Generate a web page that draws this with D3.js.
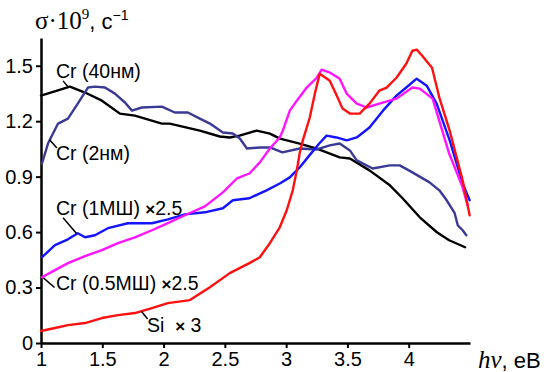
<!DOCTYPE html>
<html>
<head>
<meta charset="utf-8">
<script src="https://cdn.jsdelivr.net/npm/d3@7"></script>
<style>
  html, body { margin: 0; padding: 0; background: #fff; }
  svg { display: block; }
  text { font-family: "Liberation Sans", Arial, sans-serif; }
</style>
</head>
<body>
<svg id="chart" width="546" height="372"></svg>
<script>
// ---- data (photon energy, eV ; sigma*1e9, s^-1) ----
const xTicks = [1, 1.5, 2, 2.5, 3, 3.5, 4];
const yTicks = [0, 0.3, 0.6, 0.9, 1.2, 1.5];

const cr40nm = [[1.0,1.338],[1.236,1.387],[1.359,1.355],[1.497,1.311],[1.644,1.241],[1.766,1.230],[1.986,1.187],[2.05,1.187],[2.296,1.149],[2.459,1.117],[2.54,1.112],[2.62,1.122],[2.76,1.149],[2.867,1.133],[2.95,1.106],[3.11,1.079],[3.25,1.052],[3.437,1.004],[3.52,0.998],[3.68,0.934],[3.846,0.853],[3.95,0.783],[4.09,0.680],[4.23,0.599],[4.33,0.556],[4.46,0.518]];

const cr2nm = [[1.008,0.971],[1.057,1.079],[1.139,1.187],[1.22,1.214],[1.30,1.295],[1.383,1.382],[1.44,1.387],[1.522,1.382],[1.603,1.349],[1.685,1.301],[1.742,1.257],[1.823,1.274],[1.986,1.279],[2.092,1.247],[2.198,1.247],[2.296,1.214],[2.378,1.187],[2.484,1.139],[2.565,1.133],[2.622,1.106],[2.68,1.052],[2.785,1.058],[2.867,1.058],[2.97,1.031],[3.11,1.052],[3.25,1.047],[3.356,1.069],[3.437,1.079],[3.52,1.042],[3.576,0.988],[3.706,0.944],[3.845,0.961],[3.927,0.961],[4.03,0.923],[4.17,0.869],[4.25,0.826],[4.31,0.772],[4.375,0.702],[4.40,0.637],[4.44,0.610],[4.47,0.583]];

const cr1ml = [[1.008,0.464],[1.114,0.529],[1.22,0.561],[1.30,0.594],[1.359,0.572],[1.44,0.583],[1.546,0.621],[1.709,0.648],[1.905,0.648],[2.035,0.669],[2.174,0.696],[2.337,0.707],[2.484,0.729],[2.565,0.772],[2.70,0.783],[2.84,0.826],[2.948,0.863],[3.03,0.896],[3.11,0.950],[3.19,1.015],[3.27,1.079],[3.33,1.122],[3.41,1.112],[3.494,1.096],[3.576,1.112],[3.68,1.166],[3.79,1.257],[3.90,1.338],[3.98,1.382],[4.065,1.430],[4.147,1.392],[4.228,1.295],[4.334,1.096],[4.44,0.863],[4.497,0.772]];

const cr05ml = [[1.008,0.356],[1.114,0.394],[1.22,0.432],[1.359,0.470],[1.497,0.502],[1.628,0.540],[1.766,0.572],[1.905,0.610],[2.035,0.648],[2.174,0.691],[2.337,0.739],[2.484,0.815],[2.598,0.890],[2.70,0.917],[2.785,0.977],[2.867,1.052],[2.948,1.112],[2.973,1.149],[3.03,1.257],[3.087,1.311],[3.168,1.382],[3.25,1.435],[3.29,1.479],[3.356,1.463],[3.437,1.430],[3.494,1.349],[3.576,1.295],[3.657,1.274],[3.76,1.295],[3.90,1.322],[4.03,1.382],[4.09,1.376],[4.195,1.322],[4.33,1.025],[4.44,0.842],[4.48,0.745]];

const si = [[1.0,0.065],[1.114,0.081],[1.22,0.097],[1.359,0.108],[1.497,0.135],[1.628,0.151],[1.766,0.162],[1.905,0.189],[2.035,0.216],[2.215,0.232],[2.378,0.302],[2.54,0.378],[2.70,0.432],[2.785,0.464],[2.867,0.540],[2.948,0.626],[3.005,0.718],[3.054,0.826],[3.087,0.934],[3.11,1.025],[3.136,1.096],[3.193,1.220],[3.234,1.349],[3.274,1.457],[3.356,1.419],[3.42,1.328],[3.46,1.268],[3.52,1.241],[3.60,1.241],[3.68,1.295],[3.76,1.365],[3.82,1.382],[3.90,1.435],[3.98,1.511],[4.03,1.581],[4.065,1.587],[4.11,1.554],[4.19,1.489],[4.25,1.328],[4.334,1.149],[4.44,0.880],[4.497,0.691]];

// label: [name, scale factor text]
const seriesNames = ["Cr (40нм)", "Cr (2нм)", "Cr (1МШ) ", "Cr (0.5МШ) ", "Si  "];
const seriesFactors = ["", "", "2.5", "2.5", " 3"];
const seriesData = [cr40nm, cr2nm, cr1ml, cr05ml, si];

// ---- styling / layout ----
const colors = ["#000000", "#3a3a96", "#1414ff", "#ff14ff", "#ff1010"];
// label anchor (data coords) and leader line (data coords)
const labelPos = [
  {tx: 1.122, ty: 1.432, l: [[1.18, 1.418], [1.222, 1.385]]},
  {tx: 1.122, ty: 0.99,  l: [[1.07, 1.10], [1.13, 1.055]]},
  {tx: 1.122, ty: 0.693, l: [[1.18, 0.677], [1.29, 0.593]]},
  {tx: 1.122, ty: 0.287, l: [[1.02, 0.352], [1.11, 0.300]]},
  {tx: 1.865, ty: 0.06,  l: [[1.82, 0.17], [1.87, 0.13]]}
];

const svg = d3.select("#chart");
const x = d3.scaleLinear().domain([1, 4.5]).range([41, 470]);
const y = d3.scaleLinear().domain([0, 1.65]).range([343, 38]);

// axes
const fmtY = d => d === 0 ? "0" : d3.format(".1f")(d);
const yAxis = d3.axisLeft(y).tickValues(yTicks).tickFormat(fmtY).tickSizeInner(5).tickSizeOuter(0).tickPadding(3);
const xAxis = d3.axisBottom(x).tickValues(xTicks).tickFormat(d => String(d)).tickSizeInner(5).tickSizeOuter(0).tickPadding(4);

const gy = svg.append("g").attr("transform", `translate(${x(1)},0)`).call(yAxis);
const gx = svg.append("g").attr("transform", `translate(0,${y(0)})`).call(xAxis);
[gx, gy].forEach(g => {
  g.select(".domain").attr("stroke", "#000").attr("stroke-width", 2.5);
  g.selectAll(".tick line").attr("stroke", "#000").attr("stroke-width", 2);
  g.selectAll(".tick text").attr("fill", "#000").style("font-size", "20px").style("font-family", "'Liberation Sans', Arial, sans-serif");
});

// lines
const line = d3.line().x(d => x(d[0])).y(d => y(d[1]));
seriesData.forEach((s, i) => {
  svg.append("path").datum(s).attr("d", line)
    .attr("fill", "none").attr("stroke", colors[i]).attr("stroke-width", 2.4)
    .attr("stroke-linejoin", "round").attr("stroke-linecap", "round");
});

// labels
seriesNames.forEach((name, i) => {
  const p = labelPos[i];
  svg.append("line")
    .attr("x1", x(p.l[0][0])).attr("y1", y(p.l[0][1]))
    .attr("x2", x(p.l[1][0])).attr("y2", y(p.l[1][1]))
    .attr("stroke", "#000").attr("stroke-width", 1.5);
  const t = svg.append("text").attr("x", x(p.tx)).attr("y", y(p.ty))
    .style("font-size", "19.5px").attr("fill", "#000").attr("xml:space", "preserve")
    .style("white-space", "pre");
  t.append("tspan").text(name);
  if (seriesFactors[i]) {
    t.append("tspan").style("font-weight", "bold").style("font-size", "17px").text("×");
    t.append("tspan").text(seriesFactors[i]);
  }
});

// axis titles
const yt = svg.append("text").attr("x", 35).attr("y", 29).attr("fill", "#000");
yt.append("tspan").style("font-family", "'Liberation Serif', 'Times New Roman', serif").style("font-size", "25px").text("σ·10");
yt.append("tspan").style("font-family", "'Liberation Serif', serif").style("font-size", "15px").attr("dy", -10).text("9");
yt.append("tspan").style("font-size", "22px").attr("dy", 10).text(", с");
yt.append("tspan").style("font-size", "14px").attr("dy", -9).text("−1");

const xt = svg.append("text").attr("x", 478).attr("y", 368).attr("fill", "#000");
xt.append("tspan").style("font-family", "'Liberation Serif', serif").style("font-style", "italic").style("font-size", "25px").text("hν");
xt.append("tspan").style("font-size", "22px").text(", eB");
</script>
</body>
</html>
